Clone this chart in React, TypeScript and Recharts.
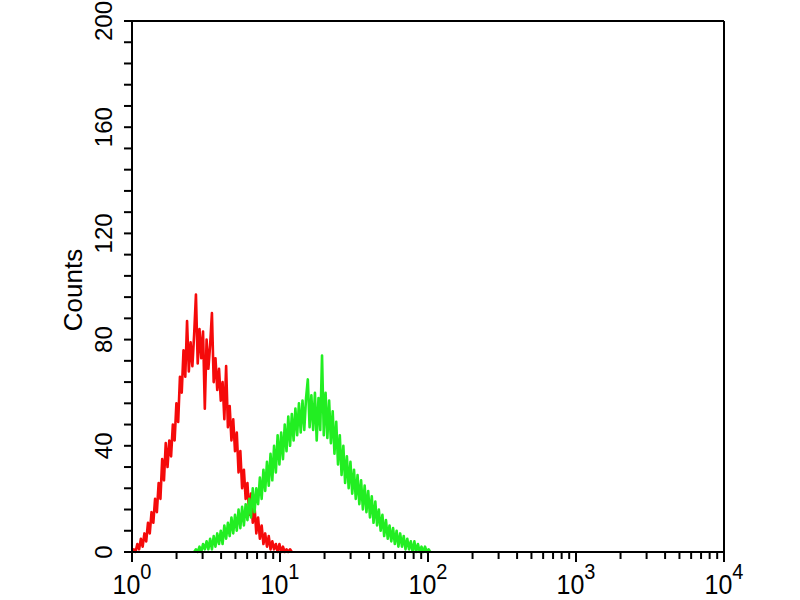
import { LineChart, Line, XAxis, YAxis, ReferenceLine } from 'recharts'

// x is in decades (log10 of fluorescence), one bin every 0.012 decade
const binWidth = 0.012
const redStart = 0
const greenStart = 0.42

// isotype control (red)
const redCounts = [
  0, 1, 0, 3, 1, 5, 2, 7, 4, 11,
  7, 15, 11, 20, 15, 26, 20, 35, 27, 41,
  32, 42, 36, 48, 42, 56, 49, 66, 60, 76,
  66, 87, 68, 79, 70, 82, 97, 71, 84, 73,
  83, 54, 80, 69, 78, 90, 64, 73, 61, 69,
  57, 64, 50, 70, 47, 55, 42, 50, 38, 45,
  30, 38, 24, 31, 20, 26, 14, 22, 11, 17,
  7, 13, 5, 10, 3, 7, 2, 6, 1, 4,
  1, 3, 0, 3, 0, 2, 0, 1, 0, 1,
  0,
]

// stained sample (green)
const greenCounts = [
  0, 1, 0, 2, 0, 3, 1, 4, 1, 5,
  1, 6, 2, 7, 3, 8, 3, 10, 5, 11,
  6, 13, 7, 14, 8, 16, 9, 17, 10, 18,
  12, 20, 13, 24, 15, 24, 18, 28, 20, 31,
  23, 34, 25, 37, 27, 40, 30, 44, 33, 45,
  35, 48, 38, 51, 40, 52, 42, 54, 44, 56,
  45, 57, 46, 58, 65, 47, 59, 46, 60, 42,
  58, 46, 74, 44, 60, 43, 57, 41, 53, 37,
  49, 33, 44, 29, 40, 26, 36, 24, 34, 22,
  31, 20, 29, 18, 27, 16, 25, 15, 23, 13,
  21, 11, 19, 10, 16, 8, 14, 6, 12, 5,
  10, 4, 9, 3, 8, 2, 7, 2, 6, 1,
  5, 1, 4, 0, 4, 0, 3, 0, 2, 0,
  2, 0, 1, 0,
]

const decades = [0, 1, 2, 3, 4]
// log10(2..9)
const minorOffsets = [0.301, 0.477, 0.602, 0.699, 0.778, 0.845, 0.903, 0.954]
const yTicks = [
  0, 8, 16, 24, 32, 40, 48, 56, 64, 72, 80, 88, 96, 104, 112, 120, 128,
  136, 144, 152, 160, 168, 176, 184, 192, 200,
]
const yLabelStep = 40

const redData = redCounts.map((count, i) => ({ x: redStart + i * binWidth, count }))
const greenData = greenCounts.map((count, i) => ({ x: greenStart + i * binWidth, count }))

const xTicks = [
  ...decades,
  ...decades.slice(0, 4).flatMap(d => minorOffsets.map(m => d + m)),
].sort((a, b) => a - b)

const FONT = '"Liberation Sans", Arial, Helvetica, sans-serif'

const XTick = ({ x, y, payload }: any) => {
  const v = payload.value
  const major = Number.isInteger(v)
  return (
    <g>
      <line x1={x} x2={x} y1={y} y2={y + (major ? 10 : 7)} stroke="#000" strokeWidth={2} />
      {major && (
        <text
          transform={`translate(${x},${y + 42}) scale(1,1.12)`}
          textAnchor="middle"
          fontSize={25}
          fontFamily={FONT}
          fill="#000"
        >
          <tspan>10</tspan>
          <tspan dy={-13} fontSize={20}>{v}</tspan>
        </text>
      )}
    </g>
  )
}

const YTick = ({ x, y, payload }: any) => {
  const v = payload.value
  return (
    <g>
      <line x1={x - 8} x2={x} y1={y} y2={y} stroke="#000" strokeWidth={2} />
      {v % yLabelStep === 0 && (
        <text
          transform={`translate(${x - 20},${y}) rotate(-90)`}
          textAnchor="middle"
          fontSize={24}
          fontFamily={FONT}
          fill="#000"
        >
          {v}
        </text>
      )}
    </g>
  )
}

const CountsLabel = () => (
  <text
    transform="translate(82,290) rotate(-90)"
    textAnchor="middle"
    fontSize={26}
    fontFamily={FONT}
    fill="#000"
  >
    Counts
  </text>
)

export default function App() {
  return (
    <div style={{ position: 'absolute', left: 0, top: 0, width: 800, height: 600, background: '#fff', overflow: 'hidden' }}>
      <LineChart width={800} height={600} margin={{ top: 21, right: 76, bottom: 0, left: 72 }}>
        <XAxis
          dataKey="x"
          type="number"
          domain={[0, 4]}
          ticks={xTicks}
          interval={0}
          height={48}
          tickSize={0}
          tickMargin={0}
          tickLine={false}
          tick={<XTick />}
          axisLine={{ stroke: '#000', strokeWidth: 2 }}
          allowDataOverflow
        />
        <YAxis
          type="number"
          domain={[0, 200]}
          ticks={yTicks}
          interval={0}
          width={60}
          tickSize={0}
          tickMargin={0}
          tickLine={false}
          tick={<YTick />}
          axisLine={{ stroke: '#000', strokeWidth: 2 }}
          label={<CountsLabel />}
        />
        <ReferenceLine y={200} stroke="#000" strokeWidth={2} />
        <ReferenceLine x={4} stroke="#000" strokeWidth={2} />
        <Line
          data={redData}
          dataKey="count"
          type="linear"
          stroke="#f50a0a"
          strokeWidth={2.6}
          strokeLinejoin="round"
          dot={false}
          isAnimationActive={false}
        />
        <Line
          data={greenData}
          dataKey="count"
          type="linear"
          stroke="#22ee22"
          strokeWidth={2.6}
          strokeLinejoin="round"
          dot={false}
          isAnimationActive={false}
        />
      </LineChart>
    </div>
  )
}
